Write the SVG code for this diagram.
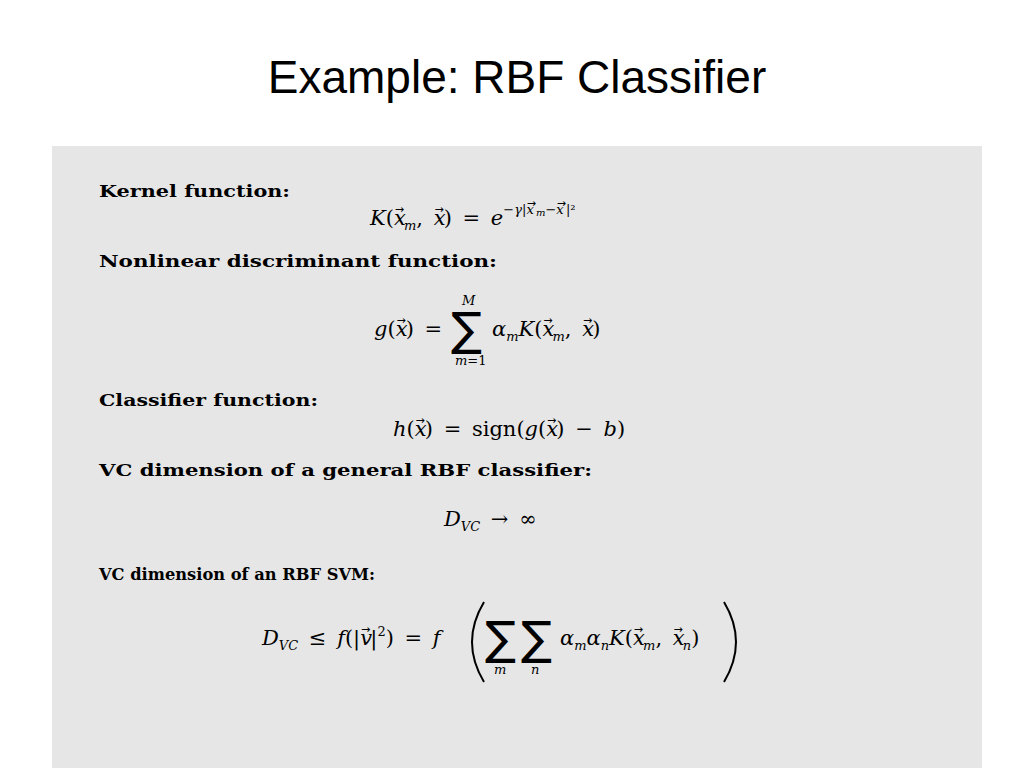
<svg xmlns="http://www.w3.org/2000/svg" width="1024" height="768" viewBox="0 0 1024 768">
<style>
.h{font-family:"DejaVu Serif","Liberation Serif",serif;font-weight:bold;font-size:17px;fill:#000}
.m{font-family:"DejaVu Serif","Liberation Serif",serif;font-size:21px;fill:#000;word-spacing:4px}
.i{font-style:italic}
.s{font-size:13px}
.a{font-family:"DejaVu Sans",sans-serif;font-size:11px;font-style:normal}
.sum{font-family:"DejaVu Sans",sans-serif;font-size:46px}
</style>
<rect width="1024" height="768" fill="#fff"/>
<text x="517" y="93" text-anchor="middle" font-family="Liberation Sans,Arial,sans-serif" font-size="46" fill="#000">Example: RBF Classifier</text>
<rect x="52" y="146" width="930" height="622" fill="#e6e6e6"/>
<g id="kernel">
<text class="h" x="99" y="197" textLength="191" lengthAdjust="spacingAndGlyphs">Kernel function:</text>
<text class="m" x="370" y="225"><tspan class="i">K</tspan>(<tspan class="i">x</tspan><tspan class="a" dx="-11" dy="-12">→</tspan><tspan class="i s" dy="17">m</tspan><tspan dy="-5">, </tspan><tspan class="i">x</tspan><tspan class="a" dx="-11" dy="-12">→</tspan><tspan dy="12">) = </tspan><tspan class="i">e</tspan><tspan class="s" dy="-11">−<tspan class="i">γ</tspan>|<tspan class="i">x</tspan><tspan class="a" font-size="8" dx="-7" dy="-7">→</tspan><tspan class="i" font-size="10" dy="9">m</tspan><tspan dy="-2">−</tspan><tspan class="i">x</tspan><tspan class="a" font-size="8" dx="-7" dy="-7">→</tspan><tspan dy="7">|²</tspan></tspan></text>
</g>
<g id="discriminant">
<text class="h" x="99" y="267" textLength="398" lengthAdjust="spacingAndGlyphs">Nonlinear discriminant function:</text>
<text class="m i s" x="462" y="305">M</text>
<text class="m" x="374" y="336"><tspan class="i">g</tspan>(<tspan class="i">x</tspan><tspan class="a" dx="-11" dy="-12">→</tspan><tspan dy="12">) =</tspan></text>
<text class="sum" x="451" y="345">∑</text>
<text class="m s" x="455" y="365"><tspan class="i">m</tspan>=1</text>
<text class="m" x="492" y="336"><tspan class="i">α</tspan><tspan class="i s" dy="5">m</tspan><tspan class="i" dy="-5">K</tspan>(<tspan class="i">x</tspan><tspan class="a" dx="-11" dy="-12">→</tspan><tspan class="i s" dy="17">m</tspan><tspan dy="-5">, </tspan><tspan class="i">x</tspan><tspan class="a" dx="-11" dy="-12">→</tspan><tspan dy="12">)</tspan></text>
</g>
<g id="classifier">
<text class="h" x="99" y="406" textLength="219" lengthAdjust="spacingAndGlyphs">Classifier function:</text>
<text class="m" x="393" y="436"><tspan class="i">h</tspan>(<tspan class="i">x</tspan><tspan class="a" dx="-11" dy="-12">→</tspan><tspan dy="12">) = sign(</tspan><tspan class="i">g</tspan>(<tspan class="i">x</tspan><tspan class="a" dx="-11" dy="-12">→</tspan><tspan dy="12">) − </tspan><tspan class="i">b</tspan>)</text>
</g>
<g id="vc-general">
<text class="h" x="99" y="476" textLength="493" lengthAdjust="spacingAndGlyphs">VC dimension of a general RBF classifier:</text>
<text class="m" x="444" y="526"><tspan class="i">D</tspan><tspan class="i s" dy="5">VC</tspan><tspan dy="-5"> → ∞</tspan></text>
</g>
<g id="vc-svm">
<text class="h" x="99" y="580" textLength="276" lengthAdjust="spacingAndGlyphs">VC dimension of an RBF SVM:</text>
<text class="m" x="262" y="645"><tspan class="i">D</tspan><tspan class="i s" dy="5">VC</tspan><tspan dy="-5"> ≤ </tspan><tspan class="i">f</tspan>(|<tspan class="i">v</tspan><tspan class="a" dx="-11" dy="-12">→</tspan><tspan dy="12">|</tspan><tspan class="s" dy="-9">2</tspan><tspan dy="9">) = </tspan><tspan class="i">f</tspan></text>
<path d="M484 602 Q460 642 484 682" fill="none" stroke="#000" stroke-width="2"/>
<text class="sum" x="485" y="654">∑</text>
<text class="m i s" x="494" y="674">m</text>
<text class="sum" x="521" y="654">∑</text>
<text class="m i s" x="531" y="674">n</text>
<text class="m" x="560" y="645"><tspan class="i">α</tspan><tspan class="i s" dy="5">m</tspan><tspan class="i" dy="-5">α</tspan><tspan class="i s" dy="5">n</tspan><tspan class="i" dy="-5">K</tspan>(<tspan class="i">x</tspan><tspan class="a" dx="-11" dy="-12">→</tspan><tspan class="i s" dy="17">m</tspan><tspan dy="-5">, </tspan><tspan class="i">x</tspan><tspan class="a" dx="-11" dy="-12">→</tspan><tspan class="i s" dy="17">n</tspan><tspan dy="-5">)</tspan></text>
<path d="M724 602 Q748 642 724 682" fill="none" stroke="#000" stroke-width="2"/>
</g>
</svg>
